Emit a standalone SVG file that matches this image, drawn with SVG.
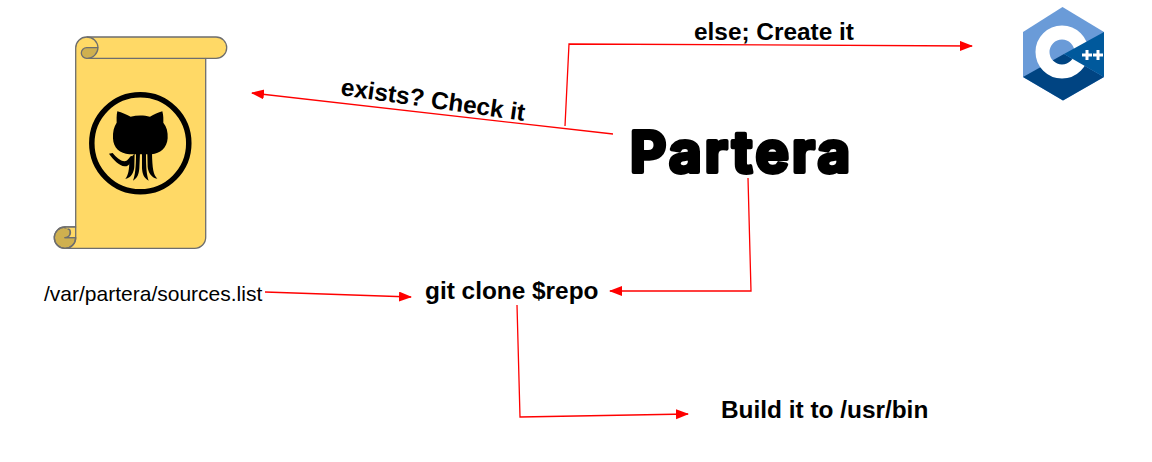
<svg xmlns="http://www.w3.org/2000/svg" width="1152" height="462" viewBox="0 0 1152 462">
<style>
text{font-family:"Liberation Sans",Arial,sans-serif;fill:#000}
.b{font-weight:700;font-size:24.4px}
.c{fill:none;stroke:#f00;stroke-width:1.3}
.s{stroke:#6e6e6e;stroke-width:1.3;stroke-linejoin:round}
</style>
<defs><marker id="a" markerUnits="userSpaceOnUse" markerWidth="14" markerHeight="12" refX="12" refY="5" orient="auto"><path d="M0 0L13 5L0 10Z" fill="#f00"/></marker></defs>
<rect width="1152" height="462" fill="#fff"/>
<g id="scroll">
<path class="s" fill="#ffd966" d="M75.700 48A11 11 0 0 1 86.700 37H216A10.700 10.700 0 0 1 216 58.400H205.700V237A11 11 0 0 1 194.700 248.300H65V227H75.700Z"/>
<path class="s" fill="none" d="M86.700 58.400H205.700"/>
<path class="s" fill="#cfb04f" d="M98 47.600H86.700A5.400 5.400 0 0 0 86.700 58.400A11 11 0 0 0 98 47.600Z"/>
<path class="s" fill="none" d="M86.700 37A11 11 0 0 1 98 47.600"/>
<path class="s" fill="#cfb04f" d="M65 227A10.700 10.700 0 1 0 75.700 237.700H65A5 5 0 0 0 70 233A4 4 0 0 0 65 228Z"/>
<path class="s" fill="#ffd966" d="M65 227H75.700V237.700H65C68 237.700 70.500 235.500 70.500 232.700C70.500 230.500 69 229 67.500 229"/>
<path class="s" fill="none" d="M65 227A10.700 10.700 0 1 0 75.700 237.700"/>
</g>
<g id="github">
<circle cx="140.300" cy="143.300" r="48.500" fill="none" stroke="#000" stroke-width="5.500"/>
<g transform="translate(40 25) scale(.3333)" fill="#000">
<path d="M232 259C245 262 262 270 272 275C290 270 312 270 330 275C342 269 355 262 367 259C371 272 370 285 370 293C380 305 384 320 383 340C381 370 360 385 335 388H268C240 385 220 370 219 340C218 320 222 305 230 293C230 285 229 272 232 259Z"/>
<path d="M207 386L218 384C228 396 240 408 254 409C262 409 266 400 272 394L278 392C275 408 268 425 254 424C238 422 220 405 207 386Z"/>
<path d="M268 405L284 385L283 425C282 440 275 458 256 462C265 450 268 435 268 405Z"/>
<path d="M288 385H300L298 430C297 445 293 460 279 467C285 450 288 430 288 385Z"/>
<path d="M306 385H318C318 430 320 450 326 467C311 460 307 445 306 430Z"/>
<path d="M322 385L336 385C337 430 340 450 352 461C333 458 324 440 323 425Z"/>
</g>
</g>
<g id="cpp">
<path fill="#6a9bd8" d="M1062.500 7L1104 32V77L1063 100.500L1023 77V32Z"/>
<path fill="#004482" d="M1023 77L1064 54L1104 77L1063 100.500Z"/>
<circle cx="1062" cy="52" r="19.500" fill="none" stroke="#fff" stroke-width="14"/>
<path fill="#00599c" d="M1104 32L1064 54L1104 77Z"/>
<path fill="none" stroke="#fff" stroke-width="3" d="M1082 55H1092M1087 50V60M1093 55H1103M1098 50V60"/>
</g>
<g id="partera"><text x="630" y="172" style="font-family:Inter,'Liberation Sans',sans-serif" font-size="56" font-weight="700" stroke="#000" stroke-width="4" stroke-linejoin="round" textLength="220" lengthAdjust="spacing">Partera</text></g>
<g id="connectors">
<path class="c" marker-end="url(#a)" d="M565 126L569 44L972 46"/>
<path class="c" marker-end="url(#a)" d="M613 134L252 93"/>
<path class="c" marker-end="url(#a)" d="M748 178L751 291L610 291"/>
<path class="c" marker-end="url(#a)" d="M265 292L411 297"/>
<path class="c" marker-end="url(#a)" d="M517 305L520 417L688 414"/>
</g>
<g id="label-else"><text class="b" x="694" y="40">else; Create it</text></g>
<g id="label-exists"><text class="b" x="340" y="95" transform="rotate(8 340 95)">exists? Check it</text></g>
<g id="node-sources"><text x="44" y="301" font-size="21">/var/partera/sources.list</text></g>
<g id="node-clone"><text class="b" x="425" y="299">git clone $repo</text></g>
<g id="node-build"><text class="b" x="721" y="418">Build it to /usr/bin</text></g>
</svg>
